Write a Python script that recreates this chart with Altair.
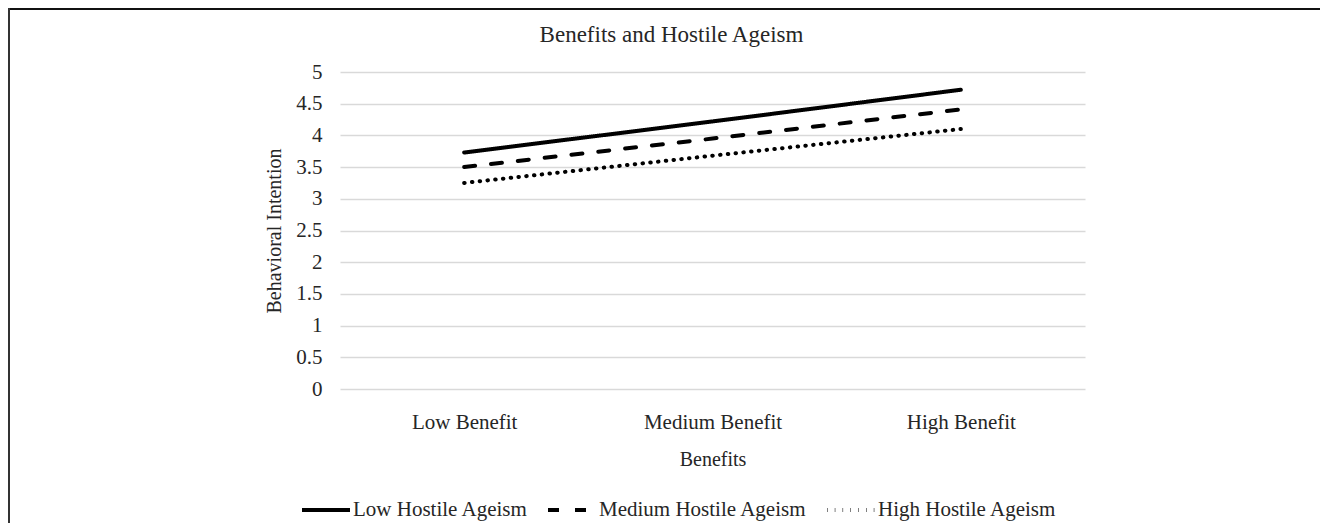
import altair as alt
import pandas as pd

categories = ["Low Benefit", "Medium Benefit", "High Benefit"]
series = ["Low Hostile Ageism", "Medium Hostile Ageism", "High Hostile Ageism"]
low_vals = [3.73, 4.22, 4.72]
med_vals = [3.50, 3.95, 4.41]
high_vals = [3.25, 3.68, 4.10]
y_ticks = [0, 0.5, 1, 1.5, 2, 2.5, 3, 3.5, 4, 4.5, 5]

rows = []
for s, vals in zip(series, [low_vals, med_vals, high_vals]):
    for c, v in zip(categories, vals):
        rows.append({"Benefits": c, "Series": s, "Value": v})
df = pd.DataFrame(rows)

FONT = "Liberation Serif"
TXT = "#262626"

lines = alt.Chart(df).mark_line(strokeCap="round", strokeWidth=4, color="black").encode(
    x=alt.X("Benefits:N", sort=categories,
            scale=alt.Scale(type="point", padding=0.5),
            axis=alt.Axis(title="Benefits", labelAngle=0, ticks=False, domain=False,
                          labelPadding=22, titlePadding=17, grid=False)),
    y=alt.Y("Value:Q", scale=alt.Scale(domain=[0, 5], nice=False),
            axis=alt.Axis(title="Behavioral Intention", values=y_ticks, ticks=False,
                          domain=False, labelPadding=18, titlePadding=11,
                          labelExpr="datum.value + ''", gridColor="#d9d9d9",
                          gridWidth=1.3)),
    strokeDash=alt.StrokeDash("Series:N", sort=series,
                              scale=alt.Scale(domain=series,
                                              range=[[1, 0], [11, 16], [0.5, 7.3]]),
                              legend=alt.Legend(title=None, orient="none",
                                                direction="horizontal",
                                                legendX=-40, legendY=412,
                                                symbolType="stroke", symbolSize=2304,
                                                symbolStrokeWidth=4,
                                                symbolStrokeColor="black",
                                                labelFontSize=21, labelFont=FONT,
                                                labelColor=TXT, labelOffset=1,
                                                labelLimit=0,
                                                columnPadding=12)),
)

frame_df = pd.DataFrame({"k": [0]})
top_border = alt.Chart(frame_df).mark_rule(color="#111", strokeWidth=2).encode(
    x=alt.value(-332), x2=alt.value(1000), y=alt.value(-63))
left_border = alt.Chart(frame_df).mark_rule(color="#333", strokeWidth=2).encode(
    x=alt.value(-331), y=alt.value(-64), y2=alt.value(500))

chart = alt.layer(lines, top_border, left_border).properties(
    width=745, height=317,
    background="white",
    autosize=alt.AutoSizeParams(type="none"),
    padding={"left": 332, "top": 64, "right": 235, "bottom": 134},
    title=alt.TitleParams("Benefits and Hostile Ageism", fontSize=23, font=FONT,
                          fontWeight="normal", color=TXT, anchor="middle",
                          frame="group", offset=22, dx=-41, dy=62),
).configure_view(stroke=None).configure_axis(
    labelFont=FONT, titleFont=FONT, labelFontSize=21, titleFontSize=20,
    labelColor=TXT, titleColor=TXT, titleFontWeight="normal"
)

chart.save("out.html", embed_options={"renderer": "svg", "actions": False})
